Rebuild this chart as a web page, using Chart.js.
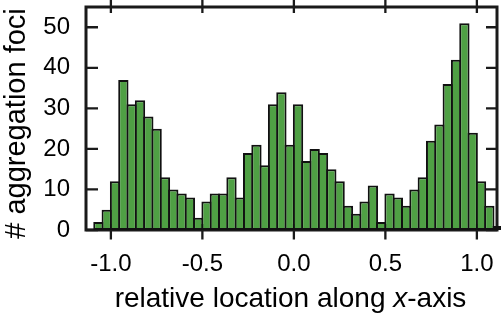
<!DOCTYPE html>
<html>
<head>
<meta charset="utf-8">
<script src="https://cdn.jsdelivr.net/npm/chart.js@4/dist/chart.umd.min.js"></script>
<style>
  html, body { margin: 0; padding: 0; background: #ffffff; }
  #wrap { width: 501px; height: 314px; }
</style>
</head>
<body>
<div id="wrap"><canvas id="c" width="501" height="314"></canvas></div>
<script>
// ---- data ----
const binWidth = 1 / 22;
const firstBinEdge = -24 / 22;
const counts = [2, 5, 12, 37, 31, 32, 28, 25, 13, 10, 9, 8, 3, 7, 9, 9, 13, 8, 19, 21,
                16, 31, 34, 21, 31, 17, 20, 19, 15, 12, 6, 4, 7, 11, 2, 9, 8, 6, 10, 13,
                22, 26, 36, 42, 51, 24, 12, 6, 1];
const binCenters = counts.map((_, i) => firstBinEdge + (i + 0.5) * binWidth);
const xTickValues = [-1.0, -0.5, 0.0, 0.5, 1.0];
const yTickValues = [0, 10, 20, 30, 40, 50];
const xRange = [-1.136, 1.11];
const yRange = [0, 55];
const xTitleParts = ["relative location along ", "x", "-axis"];
const yTitle = "# aggregation foci";

const FONT = "'Liberation Sans', Arial, Helvetica, sans-serif";

const framePlugin = {
  id: 'frame',
  beforeDatasetsDraw(chart) {
    const ctx = chart.ctx;
    const a = chart.chartArea;
    const xs = chart.scales.x, ys = chart.scales.y;
    ctx.save();
    ctx.strokeStyle = '#1a1a1a';
    ctx.lineWidth = 3;
    ctx.lineCap = 'butt';
    ctx.strokeRect(a.left, a.top, a.right - a.left, a.bottom - a.top);
    ctx.lineWidth = 2.3;
    ctx.beginPath();
    xTickValues.forEach(v => {
      const px = xs.getPixelForValue(v);
      ctx.moveTo(px, a.top - 8); ctx.lineTo(px, a.top + 6);
      ctx.moveTo(px, a.bottom - 6); ctx.lineTo(px, a.bottom + 9.5);
    });
    yTickValues.forEach(v => {
      const py = ys.getPixelForValue(v);
      ctx.moveTo(a.left, py); ctx.lineTo(a.left + 12, py);
      ctx.moveTo(a.right, py); ctx.lineTo(a.right - 11, py);
    });
    ctx.stroke();
    ctx.restore();
  },
  afterDraw(chart) {
    const ctx = chart.ctx;
    const a = chart.chartArea;
    ctx.save();
    ctx.fillStyle = '#000';
    // y title
    ctx.font = "29px " + FONT;
    ctx.textAlign = 'center';
    ctx.textBaseline = 'middle';
    ctx.translate(17, (a.top + a.bottom) / 2 + 5);
    ctx.rotate(-Math.PI / 2);
    ctx.fillText(yTitle, 0, 0);
    ctx.restore();
    // x title with italic x
    ctx.save();
    ctx.fillStyle = '#000';
    ctx.textBaseline = 'alphabetic';
    ctx.textAlign = 'left';
    const fonts = ["28px " + FONT, "italic 28px " + FONT, "28px " + FONT];
    let widths = xTitleParts.map((t, i) => { ctx.font = fonts[i]; return ctx.measureText(t).width; });
    const total = widths.reduce((s, w) => s + w, 0);
    let x = (a.left + a.right) / 2 - 1 - total / 2;
    const baseY = 307;
    xTitleParts.forEach((t, i) => {
      ctx.font = fonts[i];
      ctx.fillText(t, x, baseY);
      x += widths[i];
    });
    ctx.restore();
  }
};

new Chart(document.getElementById('c'), {
  type: 'bar',
  data: {
    datasets: [{
      data: binCenters.map((c, i) => ({ x: c, y: counts[i] })),
      backgroundColor: '#4fa044',
      borderColor: '#111111',
      borderWidth: 2,
      borderSkipped: false,
      barPercentage: 1.24,
      categoryPercentage: 1.0,
      clip: false
    }]
  },
  options: {
    responsive: false,
    animation: false,
    devicePixelRatio: 1,
    layout: { padding: { left: 0, top: 7, right: 4, bottom: 0 } },
    plugins: { legend: { display: false }, tooltip: { enabled: false } },
    scales: {
      x: {
        type: 'linear',
        offset: false,
        min: xRange[0], max: xRange[1],
        afterFit: s => { s.height = 84; s.paddingLeft = 0; s.paddingRight = 0; },
        afterBuildTicks: s => { s.ticks = xTickValues.map(v => ({ value: v })); },
        grid: { display: false, drawTicks: false },
        border: { display: false },
        ticks: {
          padding: 20,
          color: '#000',
          font: { family: FONT, size: 24 },
          maxRotation: 0,
          callback: v => v.toFixed(1)
        }
      },
      y: {
        min: yRange[0], max: yRange[1],
        afterFit: s => { s.width = 86; s.paddingTop = 0; s.paddingBottom = 0; },
        afterBuildTicks: s => { s.ticks = yTickValues.map(v => ({ value: v })); },
        grid: { display: false, drawTicks: false },
        border: { display: false },
        ticks: {
          padding: 16,
          color: '#000',
          font: { family: FONT, size: 24 },
          callback: v => String(v)
        }
      }
    }
  },
  plugins: [framePlugin]
});
</script>
</body>
</html>
